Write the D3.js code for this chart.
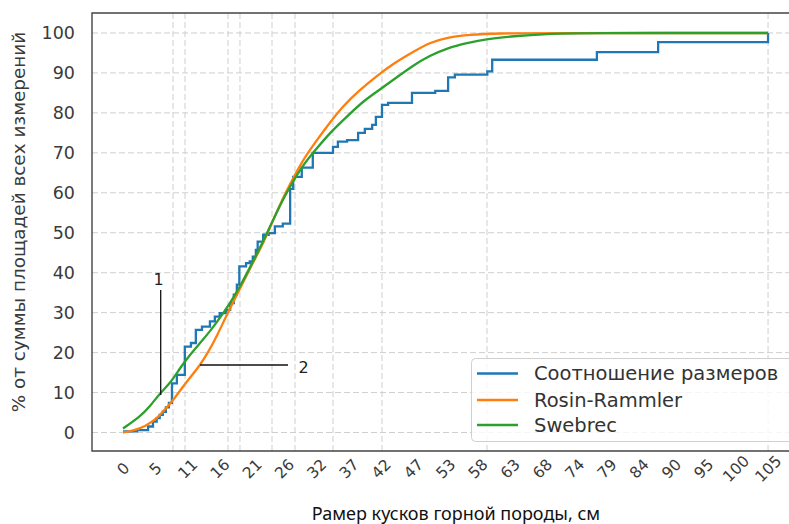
<!DOCTYPE html>
<html><head><meta charset="utf-8">
<script src="https://cdn.jsdelivr.net/npm/d3@7"></script>
<style>body{margin:0;background:#fff;} svg{display:block;}</style>
</head><body>
<svg id="chart" width="789" height="524"></svg>
<script>
// ---- data ----
const tickLabels = ["0","5","11","16","21","26","32","37","42","47","53","58","63","68","74","79","84","90","95","100","105"];
const xMax = 105.35;
const gridX = [8.17, 10.13, 17.15, 19.11, 24.34, 28.09, 34.30, 42.30, 59.45, 105.35];
const yTicks = [0,10,20,30,40,50,60,70,80,90,100];

// measured step data: size (cm) and cumulative %
const stepX = [0, 2.3, 4.1, 4.9, 5.5, 6.0, 6.5, 7.0, 7.5, 8.0, 8.8, 10.1, 11.1, 11.9, 12.9, 14.2, 15.0, 15.8, 16.8, 17.5, 18.1, 18.6, 19.0, 20.1, 20.7, 21.2, 21.7, 22.0, 22.9, 23.8, 24.8, 26.1, 27.3, 27.8, 29.2, 31.0, 34.3, 35.1, 36.6, 38.4, 39.5, 40.7, 41.3, 42.3, 43.3, 47.2, 51.0, 53.1, 54.2, 59.5, 60.3, 77.4, 87.4, 105.35];
const stepY = [0.3, 0.6, 1.5, 2.7, 3.6, 4.4, 5.2, 6.3, 7.4, 12.3, 14.4, 21.5, 22.4, 25.7, 26.5, 27.8, 29.0, 29.9, 30.7, 32.4, 34.5, 37.0, 41.6, 42.4, 42.8, 44.0, 45.7, 47.8, 49.5, 49.9, 51.6, 52.3, 61.0, 64.0, 66.3, 70.0, 71.5, 72.8, 73.2, 75.0, 76.0, 77.0, 79.0, 82.0, 82.5, 85.0, 85.5, 88.9, 89.6, 90.4, 93.3, 95.2, 97.7, 100.0];

// Rosin-Rammler curve
const rrX = [0, 1.6, 3.6, 5.5, 7.0, 8.2, 9.8, 11.2, 12.6, 14.0, 15.3, 16.9, 19.1, 21.2, 22.9, 24.0, 25.6, 27.3, 29.4, 31.4, 33.3, 35.9, 38.7, 41.5, 44.1, 47.4, 50.1, 52.9, 56.7, 61.1, 70, 105.35];
const rrY = [0, 0.4, 1.5, 3.4, 6.0, 8.1, 11.5, 14.2, 16.9, 20.3, 24.0, 29.3, 36.0, 42.4, 47.4, 51.2, 57.0, 62.2, 68.3, 72.6, 76.6, 81.7, 85.8, 89.3, 92.3, 95.3, 97.6, 98.9, 99.6, 99.9, 100, 100];

// Swebrec curve
const swX = [0, 2.8, 4.4, 6.0, 7.7, 9.3, 10.9, 12.6, 14.2, 15.8, 17.5, 19.1, 20.7, 22.4, 24.0, 25.6, 27.3, 29.4, 31.7, 33.8, 36.6, 39.2, 42.1, 44.8, 47.4, 50.1, 52.9, 56.2, 59.5, 63.7, 69.3, 74.6, 105.35];
const swY = [1.0, 4.0, 6.5, 9.8, 12.3, 16.1, 19.4, 22.4, 25.3, 28.6, 32.4, 36.5, 41.2, 46.3, 51.5, 56.8, 61.6, 67.0, 71.2, 75.0, 79.1, 82.9, 86.0, 89.0, 91.9, 94.3, 96.2, 97.5, 98.5, 99.2, 99.8, 100, 100];

const seriesNames = ["Соотношение размеров", "Rosin-Rammler", "Swebrec"];
const seriesColors = ["#1f77b4", "#ff7f0e", "#2ca02c"];

// ---- drawing ----
const svg = d3.select("#chart");
const L = 92, R = 800.3, T = 13, B = 451;
const x = d3.scaleLinear().domain([-5.06, 110.62]).range([L, R]);
const y = d3.scaleLinear().domain([-4.63, 105]).range([B, T]);

// grid
const g = svg.append("g");
g.selectAll("line.hg").data(yTicks).join("line")
  .attr("x1", L).attr("x2", R).attr("y1", d => y(d)).attr("y2", d => y(d))
  .attr("stroke", "#cfcfcf").attr("stroke-width", 1).attr("stroke-dasharray", "6,3");
g.selectAll("line.vg").data(gridX).join("line")
  .attr("y1", T).attr("y2", B).attr("x1", d => x(d)).attr("x2", d => x(d))
  .attr("stroke", "#cfcfcf").attr("stroke-width", 1).attr("stroke-dasharray", "6,3");

// y axis labels
const yAxis = d3.axisLeft(y).tickValues(yTicks).tickSize(0).tickPadding(17);
const ya = svg.append("g").attr("transform", `translate(${L},0)`).call(yAxis);
ya.select(".domain").remove();
ya.selectAll("text").attr("font-family", "DejaVu Sans").attr("font-size", 17.5).attr("fill", "#3a3a3a");

// x axis labels
const xTickVals = tickLabels.map((d, i) => i * xMax / 20);
const xAxis = d3.axisBottom(x).tickValues(xTickVals).tickSize(0).tickFormat((d, i) => tickLabels[i]);
const xa = svg.append("g").attr("transform", `translate(0,${B})`).call(xAxis);
xa.select(".domain").remove();
xa.selectAll("text")
  .attr("font-family", "DejaVu Sans").attr("font-size", 15.5).attr("fill", "#3a3a3a")
  .attr("text-anchor", "middle").attr("dy", null).attr("y", null)
  .attr("dominant-baseline", "central")
  .attr("transform", "translate(0,18) rotate(-45)");

// lines
const lineStep = d3.line().x(d => x(d[0])).y(d => y(d[1])).curve(d3.curveStepAfter);
const lineSmooth = d3.line().x(d => x(d[0])).y(d => y(d[1])).curve(d3.curveBasis);
svg.append("clipPath").attr("id", "clip").append("rect")
  .attr("x", L).attr("y", T).attr("width", R - L).attr("height", B - T);
const plot = svg.append("g").attr("clip-path", "url(#clip)");
plot.append("path").datum(d3.zip(stepX, stepY)).attr("d", lineStep)
  .attr("fill", "none").attr("stroke", seriesColors[0]).attr("stroke-width", 2.3);
plot.append("path").datum(d3.zip(rrX, rrY)).attr("d", lineSmooth)
  .attr("fill", "none").attr("stroke", seriesColors[1]).attr("stroke-width", 2.3);
plot.append("path").datum(d3.zip(swX, swY)).attr("d", lineSmooth)
  .attr("fill", "none").attr("stroke", seriesColors[2]).attr("stroke-width", 2.3);

// annotations
svg.append("line").attr("x1", 160.7).attr("x2", 160.7).attr("y1", 290).attr("y2", 395)
  .attr("stroke", "#111").attr("stroke-width", 1.3);
svg.append("text").attr("x", 158.5).attr("y", 284.5).text("1")
  .attr("font-family", "DejaVu Sans").attr("font-size", 16).attr("fill", "#222").attr("text-anchor", "middle");
svg.append("line").attr("x1", 200).attr("x2", 288).attr("y1", 365).attr("y2", 365)
  .attr("stroke", "#111").attr("stroke-width", 1.3);
svg.append("text").attr("x", 303.5).attr("y", 372.5).text("2")
  .attr("font-family", "DejaVu Sans").attr("font-size", 16).attr("fill", "#222").attr("text-anchor", "middle");

// legend
const lg = svg.append("g");
lg.append("rect").attr("x", 471.5).attr("y", 358.5).attr("width", 330).attr("height", 83).attr("rx", 4)
  .attr("fill", "#fff").attr("fill-opacity", 0.8).attr("stroke", "#d0d0d0").attr("stroke-width", 1);
const ly = [373.5, 400, 425];
seriesNames.forEach((n, i) => {
  lg.append("line").attr("x1", 477).attr("x2", 518).attr("y1", ly[i]).attr("y2", ly[i])
    .attr("stroke", seriesColors[i]).attr("stroke-width", 2.3);
  lg.append("text").attr("x", 534).attr("y", ly[i]).attr("dy", "0.35em").text(n)
    .attr("font-family", "DejaVu Sans").attr("font-size", 19.5).attr("fill", "#333");
});

// frame
svg.append("path").attr("d", `M${R},${T}H${L}V${B}H${R}`).attr("fill", "none")
  .attr("stroke", "#444").attr("stroke-width", 1.4);

// axis titles
svg.append("text").attr("transform", "translate(25,222) rotate(-90)").attr("text-anchor", "middle")
  .attr("font-family", "DejaVu Sans").attr("font-size", 18.4).attr("fill", "#3a3a3a")
  .text("% от суммы площадей всех измерений");
svg.append("text").attr("x", 456).attr("y", 520).attr("text-anchor", "middle")
  .attr("font-family", "Noto Sans").attr("font-size", 18).attr("fill", "#111")
  .text("Рамер кусков горной породы, см");
</script>
</body></html>
